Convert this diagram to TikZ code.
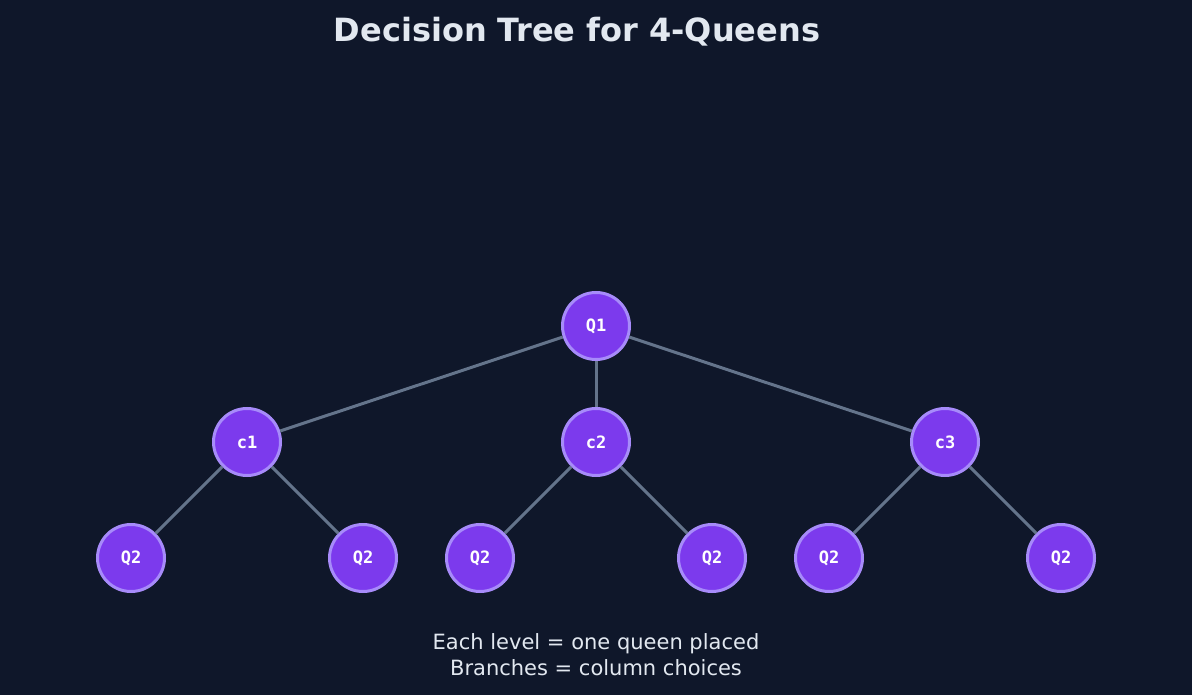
\documentclass[tikz,border=0pt]{standalone}
\usepackage{fontspec}
\setmainfont{DejaVu Sans}
\newfontfamily\monob{DejaVu Sans Mono}
\definecolor{bg}{HTML}{0F172A}
\definecolor{nodefill}{HTML}{7C3AED}
\definecolor{nodeline}{HTML}{A78BFA}
\definecolor{edge}{HTML}{64748B}
\definecolor{txt}{HTML}{E2E8F0}
\begin{document}
\begin{tikzpicture}[x=1pt,y=-1pt,
  qnode/.style={circle,fill=nodefill,draw=nodeline,line width=3pt,minimum size=67pt,inner sep=0pt,text=white,font=\monob\bfseries\fontsize{17}{17}\selectfont},
  link/.style={draw=edge,line width=3pt}]
\fill[bg] (0,0) rectangle (1192,695);
\node[text=txt,font=\bfseries\fontsize{32}{32}\selectfont] (title) at (577,32) {Decision Tree for 4-Queens};
\node[qnode] (q1) at (596,326) {Q1};
\node[qnode] (c1) at (247,442) {c1};
\node[qnode] (c2) at (596,442) {c2};
\node[qnode] (c3) at (945,442) {c3};
\node[qnode] (a1) at (131,558) {Q2};
\node[qnode] (a2) at (363,558) {Q2};
\node[qnode] (b1) at (480,558) {Q2};
\node[qnode] (b2) at (712,558) {Q2};
\node[qnode] (d1) at (829,558) {Q2};
\node[qnode] (d2) at (1061,558) {Q2};
\begin{scope}[on background layer/.style={}]
\end{scope}
\node[text=txt,font=\fontsize{21}{26}\selectfont,align=center] (cap) at (596,655) {Each level = one queen placed\\Branches = column choices};
% edges drawn then nodes redrawn on top
\foreach \a/\b in {q1/c1,q1/c2,q1/c3,c1/a1,c1/a2,c2/b1,c2/b2,c3/d1,c3/d2}
  \draw[link] (\a) -- (\b);
\end{tikzpicture}
\end{document}
